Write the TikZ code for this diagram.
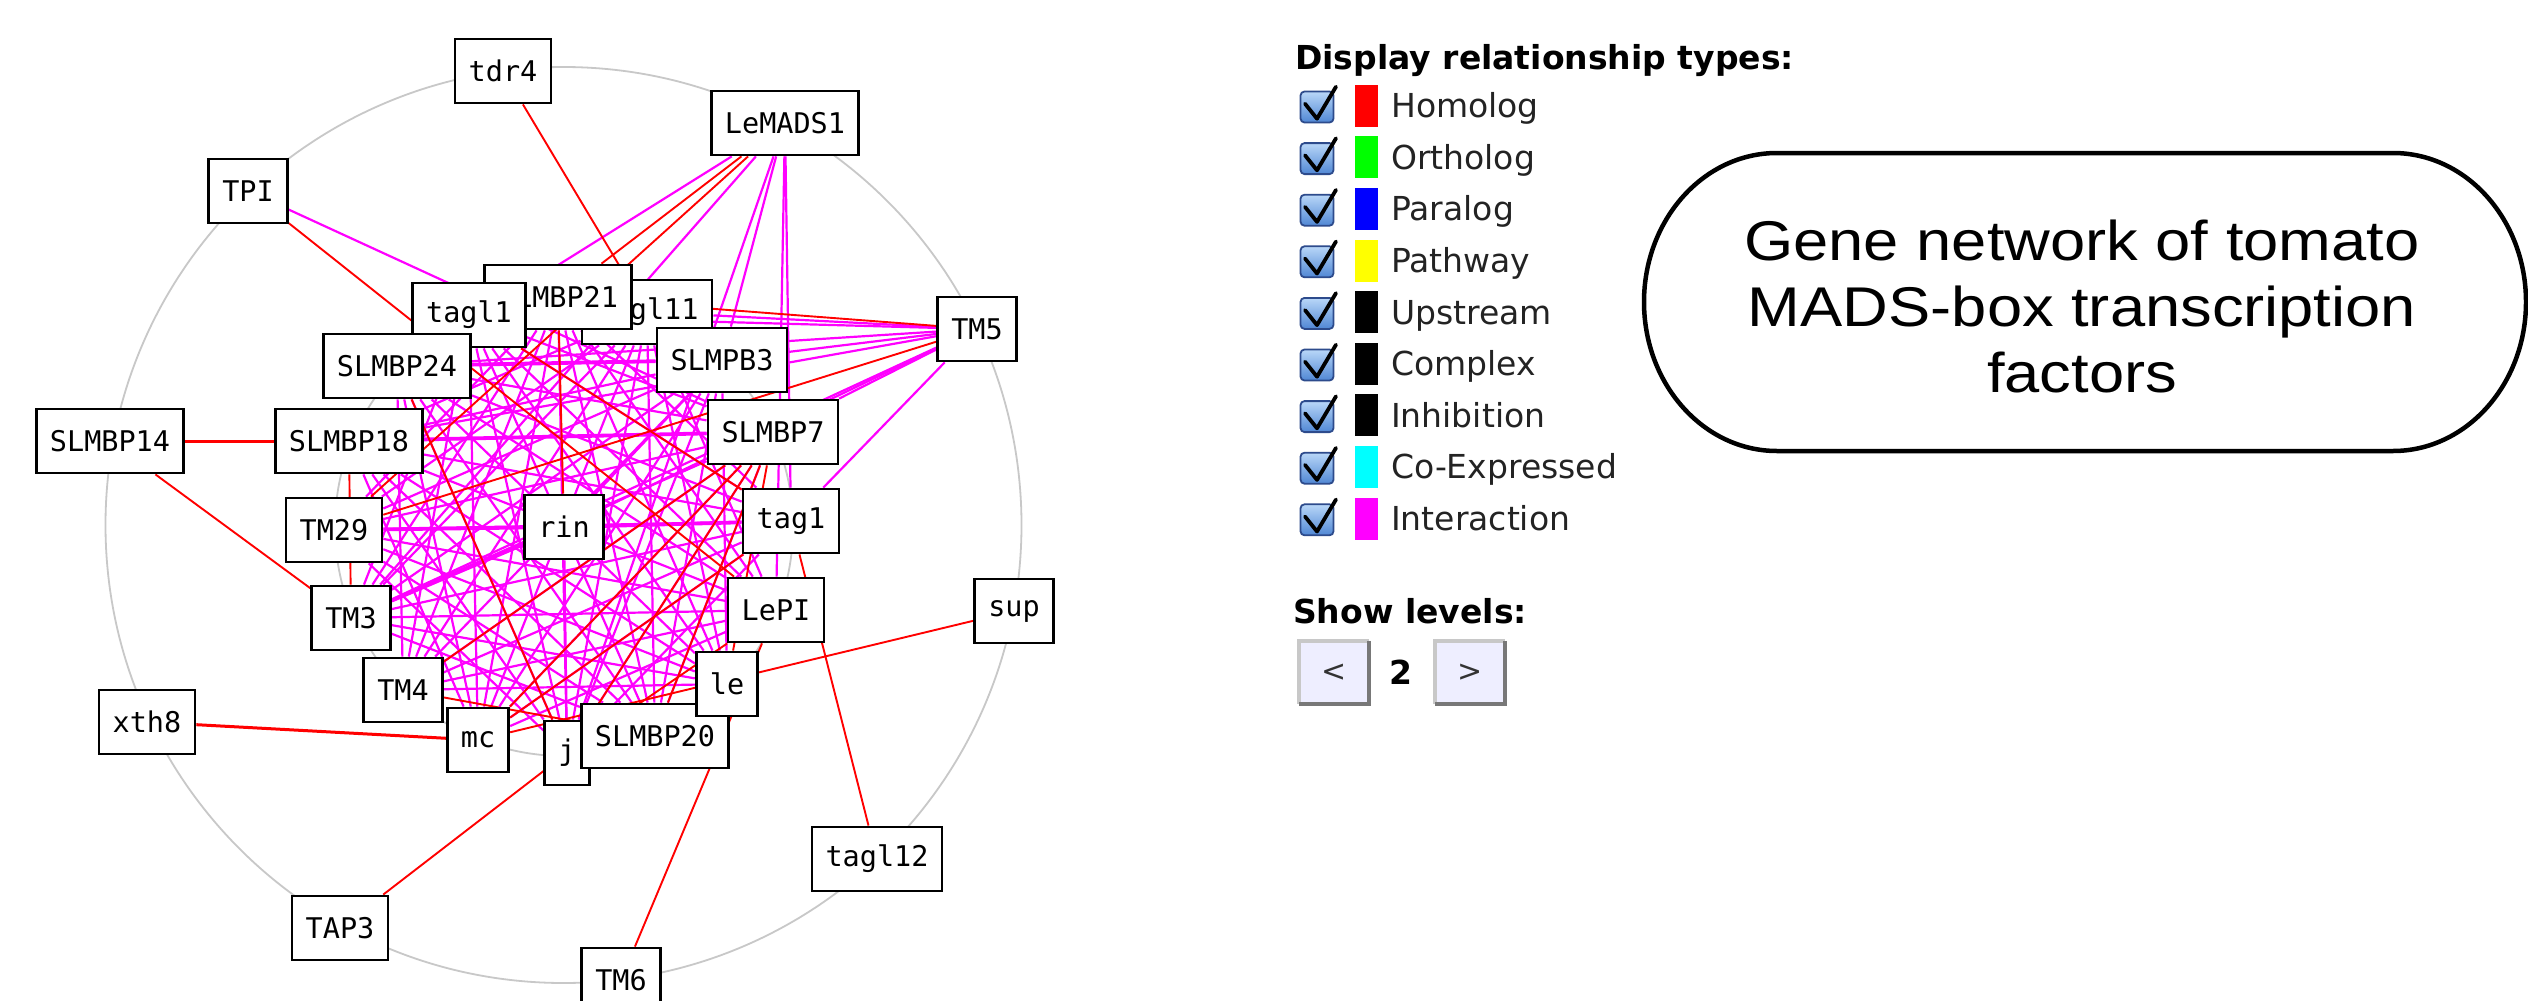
\documentclass[tikz,border=0pt]{standalone}
\usepackage{fontspec}
\newfontfamily\nodefont{DejaVu Sans Mono}
\newfontfamily\legfont{DejaVu Sans}
\newfontfamily\boxfont[FakeStretch=1.13]{Liberation Sans}
\definecolor{mag}{RGB}{255,0,255}
\definecolor{hred}{RGB}{255,0,0}
\definecolor{ringgray}{RGB}{200,200,200}
\definecolor{btnfill}{RGB}{238,238,255}
\definecolor{bevlight}{RGB}{200,200,200}
\definecolor{bevdark}{RGB}{120,120,120}
\definecolor{cbtop}{RGB}{185,215,248}
\definecolor{cbbot}{RGB}{80,135,212}
\definecolor{cbedge}{RGB}{45,75,140}
\definecolor{labgray}{RGB}{35,35,35}
\definecolor{swgreen}{RGB}{0,255,0}
\definecolor{swblue}{RGB}{0,0,255}
\definecolor{swyellow}{RGB}{255,255,0}
\definecolor{swcyan}{RGB}{0,255,255}
\pgfdeclarelayer{ring}
\pgfdeclarelayer{links}
\pgfsetlayers{ring,links,main}
\begin{document}
\begin{tikzpicture}[x=1pt,y=-1pt,
  gene/.style={draw=black, line width=2.8pt, fill=white, minimum height=64pt,
    inner xsep=13.6pt, inner ysep=0pt, text=black,
    font=\nodefont\fontsize{28.5}{30}\selectfont},
  inter/.style={draw=mag, line width=2.2pt},
  interthick/.style={draw=mag, line width=3.8pt},
  homo/.style={draw=hred, line width=1.9pt},
  homothick/.style={draw=hred, line width=3pt},
  ringline/.style={draw=ringgray, line width=1.8pt},
  chkbox/.style={draw=cbedge, line width=1.8pt, rounded corners=4pt,
    top color=cbtop, bottom color=cbbot, minimum width=33pt, minimum height=31pt, inner sep=0pt},
  tickmark/.style={draw=black, line width=3.8pt, line cap=round, line join=round},
  swatch/.style={draw=none, minimum width=23pt, minimum height=42pt, inner sep=0pt},
  leglab/.style={anchor=base west, inner sep=0pt, text=labgray,
    font=\legfont\fontsize{33}{36}\selectfont},
  legbold/.style={anchor=base west, inner sep=0pt, text=black,
    font=\legfont\bfseries\fontsize{33}{36}\selectfont},
  btn/.style={fill=btnfill, draw=none, minimum width=70pt, minimum height=63pt, inner sep=0pt,
    text=black!80, font=\legfont\fontsize{30}{32}\selectfont},
  lightbevel/.style={draw=bevlight, line width=4pt},
  darkbevel/.style={draw=bevdark, line width=4.5pt},
  titlebox/.style={draw=black, line width=4.5pt}
]
\useasboundingbox (0,0) rectangle (2528,1001);
\begin{pgfonlayer}{ring}
  \fill[white] (0,0) rectangle (2528,1001);
  \draw[ringline] (563.5,525) circle[radius=458];
  \draw[ringline] (564,527) circle[radius=229];
\end{pgfonlayer}

% outer genes
\node[gene] (tdr4) at (503,71) {tdr4};
\node[gene] (LeMADS1) at (785,123) {LeMADS1};
\node[gene] (TPI) at (248,191) {TPI};
\node[gene] (TM5) at (977,329) {TM5};
\node[gene] (SLMBP14) at (110,441) {SLMBP14};
\node[gene] (sup) at (1014,611) {sup};
\node[gene] (xth8) at (147,722) {xth8};
\node[gene] (tagl12) at (877,859) {tagl12};
\node[gene] (TAP3) at (340,928) {TAP3};
\node[gene] (TM6) at (621,980) {TM6};
% inner genes (in stacking order)
\node[gene] (tagl11) at (647,312) {tagl11};
\node[gene] (SLMBP21) at (558,297) {SLMBP21};
\node[gene] (tagl1) at (469,315) {tagl1};
\node[gene] (SLMBP24) at (397,366) {SLMBP24};
\node[gene] (SLMBP18) at (349,441) {SLMBP18};
\node[gene] (TM29) at (334,530) {TM29};
\node[gene] (TM3) at (351,618) {TM3};
\node[gene] (TM4) at (403,690) {TM4};
\node[gene] (mc) at (478,740) {mc};
\node[gene] (j) at (567,753) {j};
\node[gene] (SLMBP20) at (655,736) {SLMBP20};
\node[gene] (le) at (727,684) {le};
\node[gene] (LePI) at (776,610) {LePI};
\node[gene] (tag1) at (791,521) {tag1};
\node[gene] (SLMBP7) at (773,432) {SLMBP7};
\node[gene] (SLMPB3) at (722,360) {SLMPB3};
\node[gene] (rin) at (564,527) {rin};

\begin{pgfonlayer}{links}
  % interactions among the inner ring
  \foreach \a [count=\i] in {SLMBP21,tagl11,SLMPB3,SLMBP7,tag1,LePI,le,SLMBP20,j,mc,TM4,TM3,TM29,SLMBP18,SLMBP24,tagl1}{
    \foreach \b [count=\k] in {SLMBP21,tagl11,SLMPB3,SLMBP7,tag1,LePI,le,SLMBP20,j,mc,TM4,TM3,TM29,SLMBP18,SLMBP24,tagl1}{
      \pgfmathtruncatemacro\dd{\k-\i}
      \ifnum\dd>3 \ifnum\dd<13 \draw[inter] (\a) -- (\b); \fi\fi
    }
  }
  \foreach \b in {j,SLMPB3}{\draw[inter] (rin) -- (\b);}
  \draw[interthick] (TM29) -- (rin);
  \draw[interthick] (rin) -- (tag1);
  \draw[interthick] (TM3) -- (rin);
  \draw[interthick] (SLMBP18) -- (SLMBP7);
  \draw[interthick] (SLMBP24) -- (SLMPB3);
  % interactions from outer genes
  \draw[inter] (TPI) -- (SLMBP7);
  \foreach \b in {SLMBP24,TM3,j,SLMPB3,tag1,LePI}{\draw[inter] (LeMADS1) -- (\b);}
  \foreach \b in {tagl11,tagl1,SLMBP24,SLMPB3,SLMBP18,TM3,rin,tag1,SLMBP7}{\draw[inter] (TM5) -- (\b);}
  % homologs
  \foreach \a/\b in {tdr4/tagl11,LeMADS1/SLMBP21,LeMADS1/TM29,TPI/LePI,SLMBP14/TM3,TAP3/j,
      TM6/LePI,tagl12/tag1,sup/mc,TM5/SLMBP21,TM5/TM29,
      SLMBP21/rin,tagl1/tag1,SLMBP18/TM3,TM4/SLMBP20,SLMBP24/j,TM4/SLMBP7,mc/SLMBP7,
      SLMBP7/SLMBP20,SLMBP7/j,SLMBP7/le,tag1/mc,LePI/j}{
    \draw[homo] (\a) -- (\b);
  }
  \draw[homothick] (SLMBP14) -- (SLMBP18);
  \draw[homothick] (xth8) -- (mc);
\end{pgfonlayer}

% legend
\node[legbold] (dispTitle) at (1295,69.6) {Display relationship types:};
\foreach \lab/\col [count=\r from 0] in {Homolog/hred,Ortholog/swgreen,Paralog/swblue,Pathway/swyellow,
    Upstream/black,Complex/black,Inhibition/black,Co-Expressed/swcyan,Interaction/mag}{
  \pgfmathsetmacro\yy{105.7+51.6*\r}
  \node[chkbox] (cb\r) at (1317,\yy+1.3) {};
  \draw[tickmark] (1305,\yy-2) -- (1317,\yy+13) -- (1336,\yy-19);
  \node[swatch, fill=\col] (sw\r) at (1366.5,\yy) {};
  \node[leglab] (lb\r) at (1391,\yy+12) {\lab};
}
\node[legbold] (showLev) at (1293,623) {Show levels:};
\node[btn] (prev) at (1334,672.5) {<};
\draw[lightbevel] (prev.south west) -- (prev.north west) -- (prev.north east);
\draw[darkbevel] (prev.north east) -- (prev.south east) -- (prev.south west);
\node[legbold, anchor=center] (lvl) at (1401,672) {2};
\node[btn] (next) at (1470,672.5) {>};
\draw[lightbevel] (next.south west) -- (next.north west) -- (next.north east);
\draw[darkbevel] (next.north east) -- (next.south east) -- (next.south west);

% title box
\draw[titlebox] (1777,153) -- (2393,153)
  arc[start angle=-90, end angle=90, x radius=133, y radius=149]
  -- (1777,451)
  arc[start angle=90, end angle=270, x radius=133, y radius=149] -- cycle;
\node[align=center, inner sep=0pt, font=\boxfont\fontsize{56}{66}\selectfont] (caption) at (2082,306)
  {Gene network of tomato\\MADS-box transcription\\factors};
\end{tikzpicture}
\end{document}
